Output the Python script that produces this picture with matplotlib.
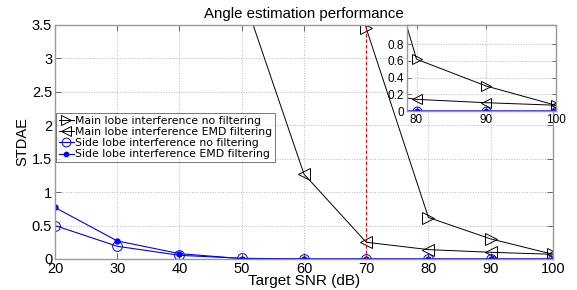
import numpy as np
import matplotlib.pyplot as plt

plt.rcParams['font.family'] = ['Liberation Sans', 'DejaVu Sans']

# data (nan = not shown / off chart)
snr = [20, 30, 40, 50, 60, 70, 80, 90, 100]
main_no_filter = [np.nan, np.nan, np.nan, np.nan, 8.0, 3.45, 0.62, 0.30, 0.07]
main_emd = [np.nan, np.nan, np.nan, 4.0, 1.27, 0.25, 0.14, 0.10, 0.07]
side_no_filter = [0.50, 0.19, 0.055, 0.01, 0.0, 0.0, 0.0, 0.0, 0.0]
side_emd = [0.77, 0.27, 0.08, 0.005, 0.0, 0.0, 0.0, 0.0, 0.0]

labels = ['Main lobe interference no filtering',
          'Main lobe interference EMD filtering',
          'Side lobe interference no filtering',
          'Side lobe interference EMD filtering']

spine_col = '#9a9a9a'


def draw_series(ax, ms=1.0):
    ax.plot(snr, main_no_filter, color='k', lw=0.7, marker='>', ms=8 * ms,
            mfc='none', mew=0.7, label=labels[0])
    ax.plot(snr, main_emd, color='k', lw=0.7, marker='<', ms=8 * ms,
            mfc='none', mew=0.7, label=labels[1])
    ax.plot(snr, side_no_filter, color='b', lw=0.8, marker='o', ms=7 * ms,
            mfc='none', mew=0.7, label=labels[2])
    ax.plot(snr, side_emd, color='b', lw=0.8, marker='o', ms=3.5 * ms,
            mfc='b', mec='b', label=labels[3])


def style_axes(ax, size, ticklen):
    for s in ax.spines.values():
        s.set_color(spine_col)
        s.set_linewidth(1.0)
    ax.tick_params(direction='in', top=True, right=True, length=ticklen,
                   width=0.6, color='#555555', labelsize=size, pad=2)
    ax.grid(True, linestyle=':', color='#b5b5b5', linewidth=0.7)
    ax.set_axisbelow(True)


fig = plt.figure(figsize=(5.77, 2.90), dpi=100)
ax = fig.add_axes([0.0953, 0.107, 0.863, 0.807])
draw_series(ax)
ax.plot([70, 70], [0, 3.45], color='r', lw=0.8, linestyle=(0, (3, 2)))
ax.set_xlim(20, 100)
ax.set_ylim(0, 3.5)
ax.set_xticks(range(20, 101, 10))
ax.set_yticks([0, 0.5, 1, 1.5, 2, 2.5, 3, 3.5])
ax.set_yticklabels(['0', '0.5', '1', '1.5', '2', '2.5', '3', '3.5'])
style_axes(ax, 10.5, 4)
ax.set_title('Angle estimation performance', fontsize=10.8, pad=5)
ax.set_xlabel('Target SNR (dB)', fontsize=11, labelpad=-1)
ax.set_ylabel('STDAE', fontsize=10.5, labelpad=2)

leg = ax.legend(loc='upper left', bbox_to_anchor=(0.003, 0.622),
                prop={'family': 'DejaVu Sans', 'size': 7.8},
                handlelength=1.4, handletextpad=0.15, labelspacing=0.12,
                borderpad=0.2, borderaxespad=0, frameon=True, fancybox=False,
                markerscale=0.9)
leg.get_frame().set_edgecolor('#555555')
leg.get_frame().set_linewidth(0.7)

# zoomed inset
ins = fig.add_axes([0.705, 0.617, 0.258, 0.297])
ins.set_facecolor('white')
draw_series(ins, ms=0.9)
ins.set_xlim(78.6, 100)
ins.set_ylim(0, 1.03)
ins.set_xticks([80, 90, 100])
ins.set_yticks([0, 0.2, 0.4, 0.6, 0.8])
ins.set_yticklabels(['0', '0.2', '0.4', '0.6', '0.8'])
style_axes(ins, 8.5, 3)

plt.savefig('out.png', dpi=100)
